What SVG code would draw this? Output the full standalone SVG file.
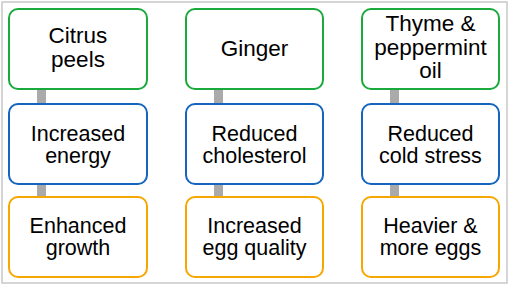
<svg xmlns="http://www.w3.org/2000/svg" width="510" height="285" viewBox="0 0 510 285">
<style>
.box{fill:#fff;stroke-width:2}
.g{stroke:#1aaa3c}
.b{stroke:#1565c0}
.o{stroke:#f7a800}
text{font-family:"Liberation Sans",Arial,sans-serif;font-size:21.5px;fill:#000;text-anchor:middle}
.top{font-size:22.5px}
.conn{fill:#aaaaaa}
</style>
<rect x="2" y="2" width="505" height="281" fill="#fff" stroke="#c8c8c8" stroke-width="1.5"/>
<g id="connectors">
<rect class="conn" x="37" y="89" width="9" height="15"/>
<rect class="conn" x="37" y="184" width="9" height="13"/>
<rect class="conn" x="214" y="89" width="9" height="15"/>
<rect class="conn" x="214" y="184" width="9" height="13"/>
<rect class="conn" x="390" y="89" width="9" height="15"/>
<rect class="conn" x="390" y="184" width="9" height="13"/>
</g>
<g id="citrus">
<rect class="box g" x="9" y="9" width="138" height="80" rx="9"/>
<text class="top" x="78" y="43">Citrus<tspan x="78" dy="23.5">peels</tspan></text>
</g>
<g id="energy">
<rect class="box b" x="9" y="104" width="138" height="80" rx="9"/>
<text x="78" y="141">Increased<tspan x="78" dy="22">energy</tspan></text>
</g>
<g id="growth">
<rect class="box o" x="9" y="197" width="138" height="80" rx="9"/>
<text x="78" y="233">Enhanced<tspan x="78" dy="22">growth</tspan></text>
</g>
<g id="ginger">
<rect class="box g" x="186" y="9" width="137" height="80" rx="9"/>
<text class="top" x="254.5" y="56">Ginger</text>
</g>
<g id="cholesterol">
<rect class="box b" x="186" y="104" width="137" height="80" rx="9"/>
<text x="254.5" y="141">Reduced<tspan x="254.5" dy="22">cholesterol</tspan></text>
</g>
<g id="eggquality">
<rect class="box o" x="186" y="197" width="137" height="80" rx="9"/>
<text x="254.5" y="233">Increased<tspan x="254.5" dy="22">egg quality</tspan></text>
</g>
<g id="thyme">
<rect class="box g" x="362" y="9" width="137" height="80" rx="9"/>
<text class="top" x="430.5" y="31">Thyme &amp;<tspan x="430.5" dy="23.5">peppermint</tspan><tspan x="430.5" dy="23.5">oil</tspan></text>
</g>
<g id="coldstress">
<rect class="box b" x="362" y="104" width="137" height="80" rx="9"/>
<text x="430.5" y="141">Reduced<tspan x="430.5" dy="22">cold stress</tspan></text>
</g>
<g id="eggs">
<rect class="box o" x="362" y="197" width="137" height="80" rx="9"/>
<text x="430.5" y="233">Heavier &amp;<tspan x="430.5" dy="22">more eggs</tspan></text>
</g>
</svg>
